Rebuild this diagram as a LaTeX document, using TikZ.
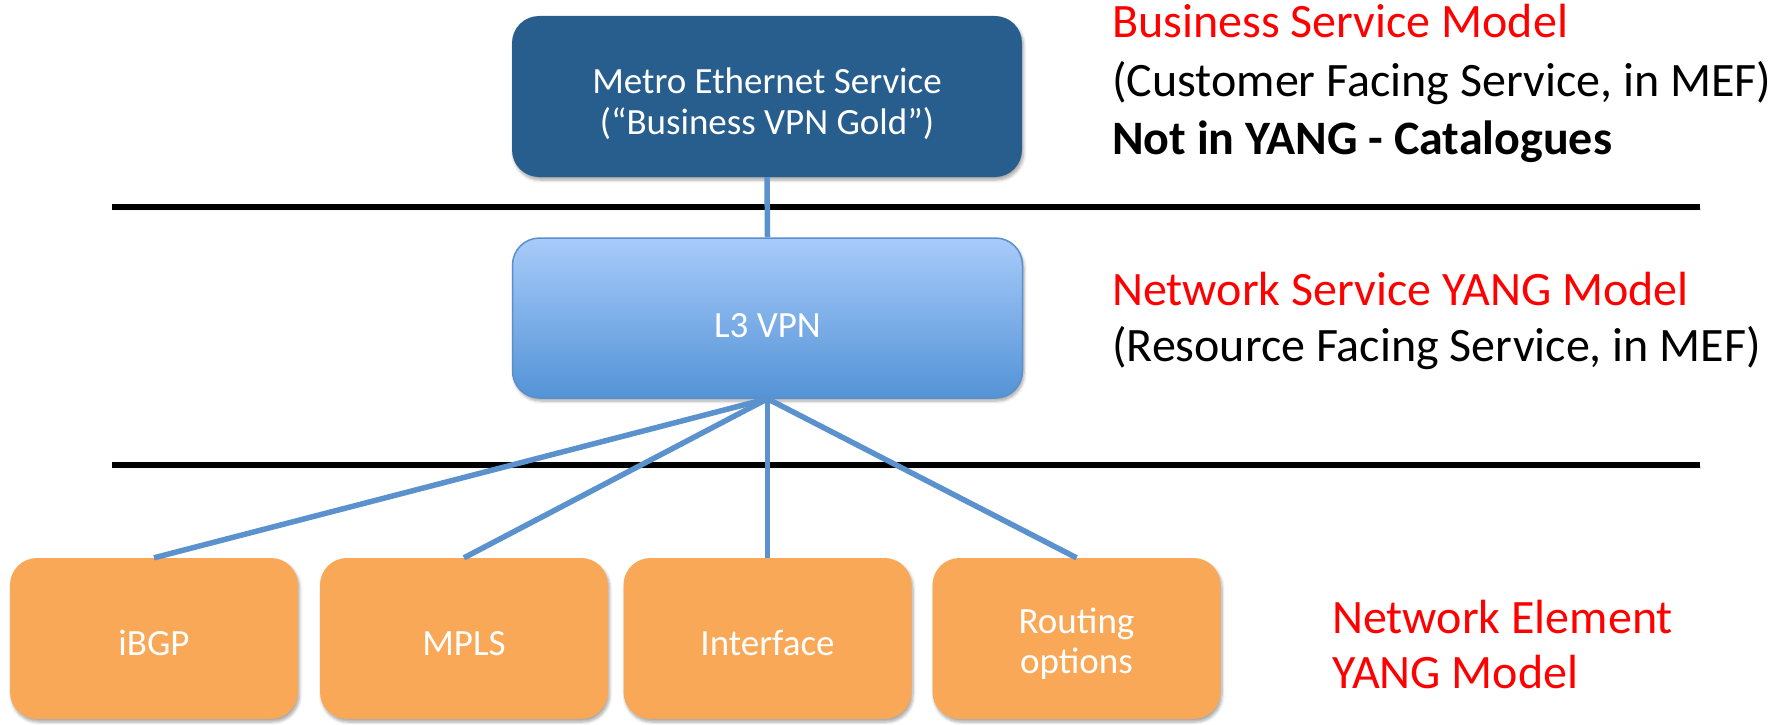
\documentclass[tikz,border=0pt]{standalone}
\usepackage{fontspec}
\setmainfont{Carlito}
\usetikzlibrary{shadows.blur}
\definecolor{topblue}{HTML}{285E8E}
\definecolor{ltop}{HTML}{A8CBFA}
\definecolor{lbot}{HTML}{5393D6}
\definecolor{lborder}{HTML}{5B8FCB}
\definecolor{connblue}{HTML}{5B91CC}
\definecolor{orng}{HTML}{F8A857}
\definecolor{lblred}{HTML}{FF0000}
\begin{document}
\begin{tikzpicture}[x=1pt,y=-1pt,
  boxshadow/.style={blur shadow={shadow xshift=1.5pt,shadow yshift=-3pt,shadow blur steps=6,shadow blur radius=3pt,shadow opacity=35}},
  bigbox/.style={rounded corners=27pt, minimum width=510pt, minimum height=161pt, inner sep=0pt, boxshadow},
  elembox/.style={rounded corners=27pt, fill=orng, minimum width=288pt, minimum height=161pt, inner sep=0pt, boxshadow},
  boxtext/.style={text=white, font=\fontsize{37}{41}\selectfont, anchor=base, inner sep=0pt},
  lbl/.style={anchor=base west, inner sep=0pt, font=\fontsize{48}{56}\selectfont},
  sepline/.style={line width=5.5pt, black, blur shadow={shadow xshift=1pt,shadow yshift=-2pt,shadow blur steps=4,shadow blur radius=2pt,shadow opacity=30}},
  connector/.style={draw=connblue, line width=5.5pt}
]
\useasboundingbox (0,0) rectangle (1783,725);

% separator lines
\coordinate (s1a) at (112,207);
\coordinate (s1b) at (1700,207);
\coordinate (s2a) at (112,465);
\coordinate (s2b) at (1700,465);
\draw[sepline] (s1a) -- (s1b);
\draw[sepline] (s2a) -- (s2b);

% boxes
\node[bigbox, fill=topblue] (mes) at (767,96.5) {};
\node[bigbox, minimum height=160pt, top color=ltop, bottom color=lbot, draw=lborder, line width=1.5pt] (l3) at (767.5,318) {};
\node[elembox] (ibgp) at (154,638.5) {};
\node[elembox] (mpls) at (464,638.5) {};
\node[elembox] (intf) at (767.5,638.5) {};
\node[elembox] (rout) at (1076.5,638.5) {};

% connectors
\draw[connector] (mes.south) -- (l3.north);
\draw[connector] (l3.south) -- (ibgp.north);
\draw[connector] (l3.south) -- (mpls.north);
\draw[connector] (l3.south) -- (intf.north);
\draw[connector] (l3.south) -- (rout.north);

% box texts
\node[boxtext] (mesa) at (767,93) {Metro Ethernet Service};
\node[boxtext] (mesb) at (767,134) {(“Business VPN Gold”)};
\node[boxtext] (l3t) at (767.5,337) {L3 VPN};
\node[boxtext] (ibgpt) at (154,655) {iBGP};
\node[boxtext] (mplst) at (464,655) {MPLS};
\node[boxtext] (intft) at (767.5,655) {Interface};
\node[boxtext] (routa) at (1076.5,633) {Routing};
\node[boxtext] (routb) at (1076.5,673) {options};

% labels
\node[lbl, text=lblred] (bsm) at (1112,38) {Business Service Model};
\node[lbl] (cfs) at (1112,96) {(Customer Facing Service, in MEF)};
\node[lbl, font=\fontsize{48}{56}\selectfont\bfseries] (niy) at (1112,154) {Not in YANG - Catalogues};
\node[lbl, text=lblred] (nsm) at (1112,305) {Network Service YANG Model};
\node[lbl] (rfs) at (1112,361) {(Resource Facing Service, in MEF)};
\node[lbl, text=lblred] (nea) at (1332,633) {Network Element};
\node[lbl, text=lblred] (neb) at (1332,688) {YANG Model};
\end{tikzpicture}
\end{document}
